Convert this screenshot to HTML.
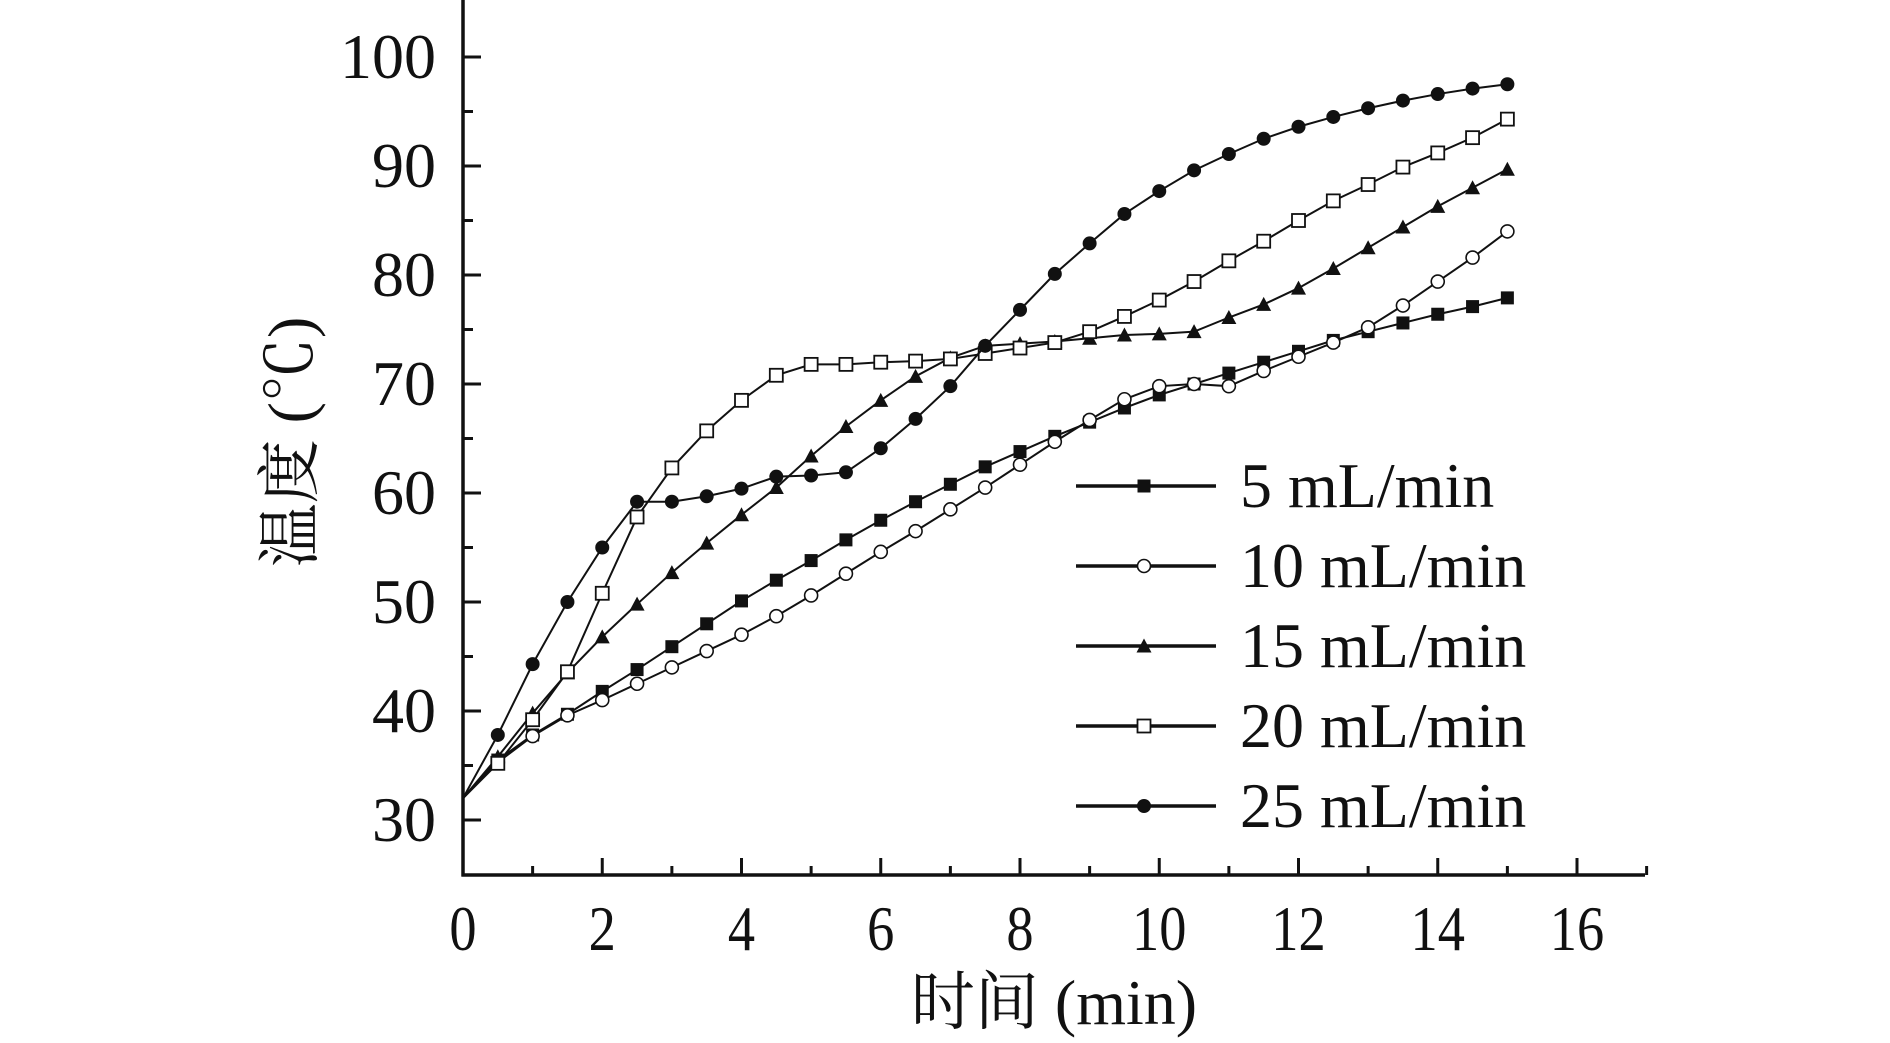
<!DOCTYPE html>
<html><head><meta charset="utf-8"><style>
html,body{margin:0;padding:0;background:#fff;}
svg{display:block;}
text{font-family:"Liberation Serif","Noto Serif CJK SC",serif;fill:#111;}
</style></head><body>
<svg id="chart" width="1890" height="1043" viewBox="0 0 1890 1043" xmlns="http://www.w3.org/2000/svg">
<g id="axes"></g>
<g id="series"></g>
<g id="legend"></g>
</svg>
<script>
const xValues = [0,0.5,1,1.5,2,2.5,3,3.5,4,4.5,5,5.5,6,6.5,7,7.5,8,8.5,9,9.5,10,10.5,11,11.5,12,12.5,13,13.5,14,14.5,15];
const s5 = [32,35.5,37.8,39.7,41.8,43.8,45.9,48,50.1,52,53.8,55.7,57.5,59.2,60.8,62.4,63.8,65.2,66.5,67.8,69,70,71,72,73,74,74.8,75.6,76.4,77.1,77.9];
const s10 = [32,35.3,37.7,39.6,41,42.5,44,45.5,47,48.7,50.6,52.6,54.6,56.5,58.5,60.5,62.6,64.7,66.7,68.6,69.8,70,69.8,71.2,72.5,73.8,75.2,77.2,79.4,81.6,84];
const s15 = [32,35.8,39.8,43.5,46.8,49.8,52.7,55.4,58,60.5,63.4,66.1,68.5,70.7,72.4,73.5,73.7,73.9,74.2,74.5,74.6,74.8,76.1,77.3,78.8,80.6,82.5,84.4,86.3,88,89.7];
const s20 = [32,35.2,39.2,43.6,50.8,57.8,62.3,65.7,68.5,70.8,71.8,71.8,72,72.1,72.3,72.8,73.3,73.8,74.8,76.2,77.7,79.4,81.3,83.1,85,86.8,88.3,89.9,91.2,92.6,94.3];
const s25 = [32,37.8,44.3,50,55,59.2,59.2,59.7,60.4,61.5,61.6,61.9,64.1,66.8,69.8,73.5,76.8,80.1,82.9,85.6,87.7,89.6,91.1,92.5,93.6,94.5,95.3,96,96.6,97.1,97.5];
const seriesLabels = ["5 mL/min","10 mL/min","15 mL/min","20 mL/min","25 mL/min"];
const seriesMarkers = ["fsquare","ocircle","ftriangle","osquare","fcircle"];
const xTicks = [0,2,4,6,8,10,12,14,16];
const yTicks = [30,40,50,60,70,80,90,100];

const NS="http://www.w3.org/2000/svg";
const X0=463, XS=(1577-463)/16, Y30=820, YS=(820-57)/70;
function sx(v){return X0+v*XS;}
function sy(v){return Y30-(v-30)*YS;}
function mk(tag,attrs,parent){const e=document.createElementNS(NS,tag);for(const k in attrs)e.setAttribute(k,attrs[k]);parent.appendChild(e);return e;}
const axes=document.getElementById('axes'), ser=document.getElementById('series'), leg=document.getElementById('legend');
const AX_Y=875, AX_R=1645;
let l=mk('line',{x1:X0,y1:0,x2:X0,y2:AX_Y+1.5,stroke:'#111','stroke-width':3.5},axes);

l=mk('line',{x1:X0-1.5,y1:AX_Y,x2:AX_R,y2:AX_Y,stroke:'#111','stroke-width':3.5},axes);

for(let v=35;v<=95;v+=10){const t=mk('line',{x1:X0,y1:sy(v),x2:X0+10,y2:sy(v),stroke:'#111','stroke-width':3},axes);
}
yTicks.forEach(v=>{const t=mk('line',{x1:X0,y1:sy(v),x2:X0+18,y2:sy(v),stroke:'#111','stroke-width':3},axes);

const tx=mk('text',{x:436,y:sy(v)+21,'text-anchor':'end','font-size':64},axes);tx.textContent=v;
});
for(let v=1;v<=17;v+=2){const t=mk('line',{x1:sx(v),y1:AX_Y,x2:sx(v),y2:AX_Y-9,stroke:'#111','stroke-width':3},axes);
}
xTicks.forEach(v=>{const t=mk('line',{x1:sx(v),y1:AX_Y,x2:sx(v),y2:AX_Y-17,stroke:'#111','stroke-width':3},axes);

const tx=mk('text',{x:sx(v),y:950,'text-anchor':'middle','font-size':64,transform:`translate(${sx(v)},0) scale(0.85,1) translate(${-sx(v)},0)`},axes);tx.textContent=v;
});
let tt=mk('text',{x:1054,y:1024,'text-anchor':'middle','font-size':64},axes);tt.textContent='时间 (min)';

tt=mk('text',{x:0,y:0,'text-anchor':'middle','font-size':64,transform:'translate(312,442) rotate(-90)'},axes);tt.textContent='温度 (℃)';


function marker(type,x,y,parent){
 const r=6.5;let m;
 if(type==='fsquare')m=mk('rect',{x:x-r,y:y-r,width:2*r,height:2*r,fill:'#111'},parent);
 else if(type==='osquare')m=mk('rect',{x:x-r,y:y-r,width:2*r,height:2*r,fill:'#fff',stroke:'#111','stroke-width':1.8},parent);
 else if(type==='ocircle')m=mk('circle',{cx:x,cy:y,r:r,fill:'#fff',stroke:'#111','stroke-width':1.6},parent);
 else if(type==='fcircle')m=mk('circle',{cx:x,cy:y,r:r+0.5,fill:'#111'},parent);
 else m=mk('polygon',{points:`${x},${y-r-1} ${x+r+1},${y+r} ${x-r-1},${y+r}`,fill:'#111'},parent);
 return m;
}
const allSeries=[s5,s10,s15,s20,s25];
allSeries.forEach((s,i)=>{
 const g=mk('g',{},ser);
 
 
 const p=mk('polyline',{points:s.map((v,j)=>sx(xValues[j])+','+sy(v)).join(' '),fill:'none',stroke:'#111','stroke-width':2},g);
 
 
 s.forEach((v,j)=>{if(j===0)return;const m=marker(seriesMarkers[i],sx(xValues[j]),sy(v),g);
 
 });
 const ly=486+i*80;
 const lg=mk('g',{},leg);
 
 
 mk('line',{x1:1076,y1:ly,x2:1216,y2:ly,stroke:'#111','stroke-width':3.5},lg);
 marker(seriesMarkers[i],1144,ly,lg);
 const t=mk('text',{x:1240,y:ly+21,'font-size':64},lg);t.textContent=seriesLabels[i];
});
</script>
</body></html>
